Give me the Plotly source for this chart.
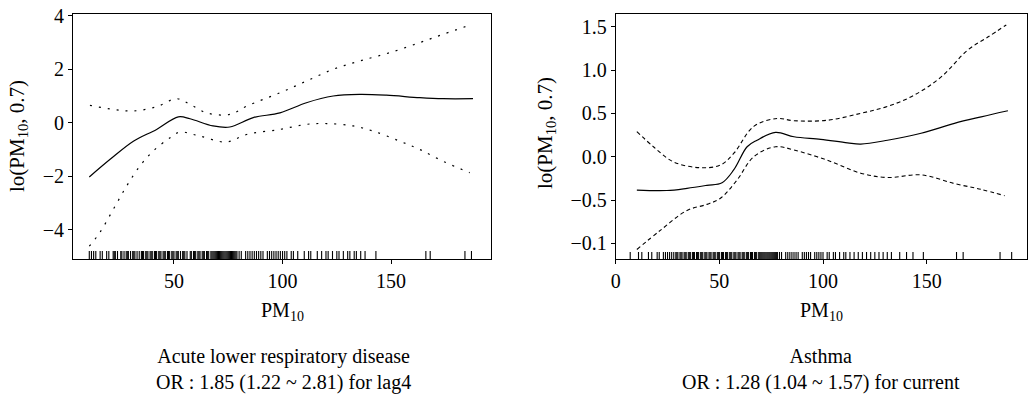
import plotly.graph_objects as go

# ---------------- data: left panel (Acute lower respiratory disease) ----------------
left_x = [11, 20.6, 31.3, 42, 52, 57.4, 68, 75.7, 86.5, 98.8, 111, 123.3, 135.5, 147.8, 163.2, 173.9, 187.7]
left_fit = [-2.03, -1.37, -0.69, -0.25, 0.22, 0.15, -0.12, -0.16, 0.19, 0.37, 0.75, 1.0, 1.06, 1.03, 0.94, 0.9, 0.9]

left_up_x = [11.3, 22, 31.3, 42, 51.2, 57.4, 65, 75.7, 83.4, 98.8, 111, 123.3, 135.5, 149.3, 163.2, 173.9, 186.2]
left_up = [0.65, 0.5, 0.44, 0.6, 0.9, 0.69, 0.37, 0.31, 0.62, 1.12, 1.56, 2.0, 2.31, 2.62, 3.0, 3.31, 3.65]

left_lo_x = [11, 15.8, 22, 28.2, 34.3, 40.4, 48.2, 52.7, 61.9, 74.2, 83.4, 98.8, 111, 120.2, 132.5, 141.7, 154, 163.2, 173.9, 186.2]
left_lo = [-4.62, -4.12, -3.25, -2.37, -1.62, -1.06, -0.56, -0.35, -0.5, -0.72, -0.44, -0.25, -0.06, -0.03, -0.12, -0.31, -0.69, -1.0, -1.44, -1.87]

left_rug = [11, 12, 13, 14, 16, 17, 19, 20, 22, 22.5, 23, 24, 25.5, 26, 27, 28, 28.5, 29, 30, 31, 31.5,
            32, 33, 34, 35, 35.5, 36, 37, 37.5, 38, 39, 39.5, 40, 41, 41.5, 42, 43, 43.5, 44, 45, 45.5,
            46, 47, 47.5, 48, 49, 49.5, 50, 51, 51.5, 52, 53, 54, 54.5, 55, 56, 57.5, 58, 59, 59.5,
            60, 61, 61.5, 62, 63, 63.5, 64, 65, 65.5, 66, 67, 67.5, 68, 68.5, 69, 69.5, 70, 70.5, 71,
            71.5, 72, 72.5, 73, 73.5, 74, 74.5, 75, 75.5, 76, 76.5, 77, 77.5, 78, 78.5, 79, 80, 81,
            83, 84, 85, 86, 87, 88, 89, 90, 91, 93, 94, 95, 96, 97, 98, 99, 100, 101, 102, 104, 105,
            107, 110, 112, 113, 116, 118, 120, 121, 123, 125, 126, 128, 130, 131, 133, 134, 136, 138,
            143, 166, 168, 184, 187]

left_yticks = [4, 2, 0, -2, -4]
left_yticklabels = ["4", "2", "0", "\u22122", "\u22124"]
left_xticks = [50, 100, 150]
left_xticklabels = ["50", "100", "150"]

# ---------------- data: right panel (Asthma) ----------------
right_x = [10.2, 24.7, 34.4, 44, 51.3, 57, 63.4, 68.2, 77.1, 86, 98.9, 111.8, 118.2, 131.1, 147.3, 163.4, 176.3, 189.2]
right_fit = [-0.385, -0.39, -0.365, -0.33, -0.3, -0.15, 0.115, 0.19, 0.28, 0.23, 0.2, 0.16, 0.146, 0.19, 0.27, 0.385, 0.46, 0.53]

right_up_x = [10.2, 18.2, 27.9, 40.8, 50.5, 57, 66.6, 77.9, 86, 102, 118.2, 131.1, 144, 157, 169.8, 179.5, 188.4]
right_up = [0.29, 0.115, -0.06, -0.127, -0.096, 0.04, 0.35, 0.44, 0.415, 0.42, 0.5, 0.58, 0.71, 0.92, 1.23, 1.38, 1.52]

right_lo_x = [10.2, 21.5, 34.4, 44, 50.5, 58.5, 66.6, 77.1, 86, 102, 118.2, 131.1, 147.3, 163.4, 176.3, 187.6]
right_lo = [-1.07, -0.85, -0.62, -0.55, -0.48, -0.27, 0.0, 0.115, 0.077, -0.04, -0.19, -0.24, -0.21, -0.31, -0.377, -0.45]

right_rug = [7, 11, 12.6, 15.8, 17.4, 20, 21, 23, 24, 25, 26, 27, 28, 29, 29.5, 30, 31, 31.5, 32, 33,
             33.5, 34, 35, 35.5, 36, 37, 37.5, 38, 39, 39.5, 40, 41, 41.5, 42, 43, 43.5, 44, 45, 45.5,
             46, 47, 47.5, 48, 49, 49.5, 50, 51, 51.5, 52, 53, 53.5, 54, 55, 55.5, 56, 57, 57.5, 58,
             59, 59.5, 60, 61, 61.5, 62, 63, 63.5, 64, 65, 65.5, 66, 67, 67.5, 68, 69, 69.5, 70,
             70.5, 71, 71.5, 72, 72.5, 73, 73.5, 74, 74.5, 75, 75.5, 76, 76.5, 77, 77.5, 78, 79, 80,
             82, 83, 84, 85, 86, 87, 88, 90, 91, 92, 93, 94, 96, 97, 98, 99, 100, 102, 103, 105, 106,
             108, 110, 111, 113, 115, 117, 119, 121, 123, 125, 127, 129, 131, 133, 137, 140.3, 143.4,
             148.4, 164.4, 167.6, 185.4, 191]

right_yticks = [1.5, 1.0, 0.5, 0.0, -0.5, -1.0]
right_yticklabels = ["1.5", "1.0", "0.5", "0.0", "\u22120.5", "\u22120.1"]
right_xticks = [0, 50, 100, 150]
right_xticklabels = ["0", "50", "100", "150"]

left_caption = ["Acute lower respiratory disease", "OR : 1.85 (1.22 ~ 2.81) for lag4"]
right_caption = ["Asthma", "OR : 1.28 (1.04 ~ 1.57) for current"]
ytitle = "lo(PM<sub>10</sub>, 0.7)"
xtitle = "PM<sub>10</sub>"

# ---------------- figure ----------------
FONT = "Liberation Serif, Times New Roman, Times, serif"
W, H = 1030, 401
LEFT_RANGE_X = [3.5, 196]
LEFT_RANGE_Y = [-5.1, 4.07]
RIGHT_RANGE_X = [0, 198.4]
RIGHT_RANGE_Y = [-1.18, 1.646]


def px(x):
    return x / W


def py(y):
    return 1 - y / H


fig = go.Figure()


def rug_trace(vals, y0, y1, xa, ya):
    xs, ys = [], []
    for v in vals:
        xs += [v, v, None]
        ys += [y0, y1, None]
    return go.Scatter(x=xs, y=ys, mode="lines", line=dict(color="black", width=1.1),
                      xaxis=xa, yaxis=ya, hoverinfo="skip", showlegend=False)


# left panel
fig.add_trace(go.Scatter(x=left_x, y=left_fit, mode="lines", line=dict(color="black", width=1.2, shape="spline"),
                         xaxis="x", yaxis="y", showlegend=False))
fig.add_trace(go.Scatter(x=left_up_x, y=left_up, mode="lines",
                         line=dict(color="black", width=1.2, dash="2px,7px", shape="spline"),
                         xaxis="x", yaxis="y", showlegend=False))
fig.add_trace(go.Scatter(x=left_lo_x, y=left_lo, mode="lines",
                         line=dict(color="black", width=1.2, dash="2px,7px", shape="spline"),
                         xaxis="x", yaxis="y", showlegend=False))
fig.add_trace(rug_trace(left_rug, LEFT_RANGE_Y[0], LEFT_RANGE_Y[0] + 0.3, "x", "y"))

# right panel
fig.add_trace(go.Scatter(x=right_x, y=right_fit, mode="lines", line=dict(color="black", width=1.2, shape="spline"),
                         xaxis="x2", yaxis="y2", showlegend=False))
fig.add_trace(go.Scatter(x=right_up_x, y=right_up, mode="lines",
                         line=dict(color="black", width=1.1, dash="4px,3px", shape="spline"),
                         xaxis="x2", yaxis="y2", showlegend=False))
fig.add_trace(go.Scatter(x=right_lo_x, y=right_lo, mode="lines",
                         line=dict(color="black", width=1.1, dash="4px,3px", shape="spline"),
                         xaxis="x2", yaxis="y2", showlegend=False))
fig.add_trace(rug_trace(right_rug, RIGHT_RANGE_Y[0], RIGHT_RANGE_Y[0] + 0.08, "x2", "y2"))

ydom = [py(259), py(14)]

axis_common = dict(showgrid=False, zeroline=False, showline=True, linecolor="black", linewidth=1,
                   mirror=True, ticks="outside", ticklen=4, tickcolor="black", tickwidth=1,
                   automargin=False, ticklabeloverflow="allow",
                   tickfont=dict(family=FONT, size=20, color="black"))

fig.update_layout(
    template="none",
    width=W, height=H,
    margin=dict(l=0, r=0, t=0, b=0, pad=0),
    paper_bgcolor="white", plot_bgcolor="white",
    showlegend=False,
    hovermode=False,
    font=dict(family=FONT, size=20, color="black"),
    xaxis=dict(domain=[px(73), px(491)], range=LEFT_RANGE_X, tickvals=left_xticks, ticktext=left_xticklabels,
               anchor="y", **axis_common),
    yaxis=dict(domain=ydom, range=LEFT_RANGE_Y, tickvals=left_yticks, ticktext=left_yticklabels,
               anchor="x", **axis_common),
    xaxis2=dict(domain=[px(615.7), px(1027)], range=RIGHT_RANGE_X, tickvals=right_xticks,
                ticktext=right_xticklabels, anchor="y2", **axis_common),
    yaxis2=dict(domain=ydom, range=RIGHT_RANGE_Y, tickvals=right_yticks, ticktext=right_yticklabels,
                anchor="x2", **axis_common),
)

ytfont = dict(family=FONT, size=21, color="black")
txt = dict(family=FONT, size=20, color="black")
ann = []
# y titles
ann.append(dict(text=ytitle, x=px(18), y=py(136), xref="paper", yref="paper", textangle=-90,
                showarrow=False, font=ytfont, xanchor="center", yanchor="middle"))
ann.append(dict(text=ytitle, x=px(546), y=py(133), xref="paper", yref="paper", textangle=-90,
                showarrow=False, font=ytfont, xanchor="center", yanchor="middle"))
# x titles
ann.append(dict(text=xtitle, x=px(282), y=py(311), xref="paper", yref="paper",
                showarrow=False, font=txt, xanchor="center", yanchor="middle"))
ann.append(dict(text=xtitle, x=px(821), y=py(311), xref="paper", yref="paper",
                showarrow=False, font=txt, xanchor="center", yanchor="middle"))
# captions (two lines in one block)
for cx, cap in [(283, left_caption), (821, right_caption)]:
    ann.append(dict(text=cap[0] + "<br>" + cap[1], x=px(cx), y=py(369), xref="paper", yref="paper",
                    showarrow=False, font=txt, xanchor="center", yanchor="middle", align="center"))
fig.update_layout(annotations=ann)

fig.write_html("out.html", config={"displayModeBar": False, "staticPlot": True},
               post_script="document.body.style.margin='0px';document.body.style.overflow='hidden';")
